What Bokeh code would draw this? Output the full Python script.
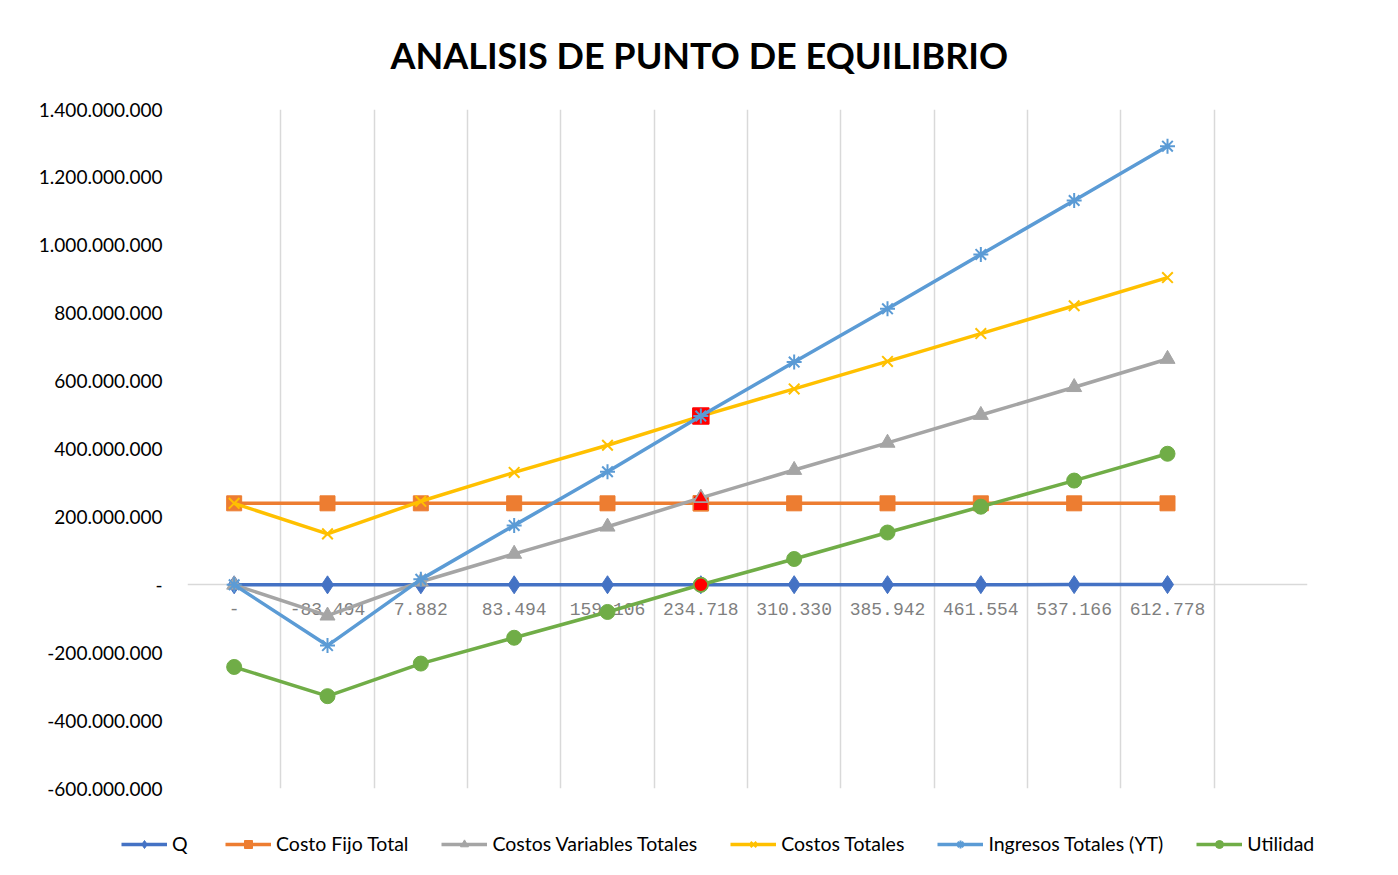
from bokeh.plotting import figure
from bokeh.models import FixedTicker, Legend, LegendItem, Range1d
from bokeh.core.properties import value
from bokeh.embed import file_html
from bokeh.resources import INLINE

# ---------------- data ----------------
categories = ["-", "-83.494", "7.882", "83.494", "159.106", "234.718",
              "310.330", "385.942", "461.554", "537.166", "612.778"]
q_values = [0, -83494, 7882, 83494, 159106, 234718, 310330, 385942, 461554, 537166, 612778]
costo_fijo = [240e6, 240e6, 240e6, 240e6, 240e6, 240e6, 240e6, 240e6, 240e6, 240e6, 240e6]
costos_variables = [0, -91e6, 9e6, 91e6, 171e6, 256e6, 338e6, 418e6, 500e6, 582e6, 665e6]
costos_totales = [240e6, 150e6, 246e6, 331e6, 411e6, 497e6, 577e6, 658e6, 740e6, 822e6, 905e6]
ingresos_totales = [0, -179e6, 16e6, 175e6, 333e6, 497e6, 656e6, 813e6, 973e6, 1132e6, 1292e6]
utilidad = [-242e6, -328e6, -232e6, -156e6, -80e6, 0, 76e6, 154e6, 230e6, 307e6, 386e6]
break_even_index = 5

y_ticks = [-600e6, -400e6, -200e6, 0, 200e6, 400e6, 600e6, 800e6, 1000e6, 1200e6, 1400e6]
y_tick_labels = ["-600.000.000", "-400.000.000", "-200.000.000", "-", "200.000.000",
                 "400.000.000", "600.000.000", "800.000.000", "1.000.000.000",
                 "1.200.000.000", "1.400.000.000"]

title_text = "ANALISIS DE PUNTO DE EQUILIBRIO"

# ---------------- main figure ----------------
n = len(categories)
xs = list(range(n))

p = figure(frame_width=1120, frame_height=679,
           x_range=Range1d(-0.5, n + 0.5), y_range=Range1d(y_ticks[0], y_ticks[-1]),
           output_backend="svg", toolbar_location=None, x_axis_location=None,
           min_border_left=187, min_border_right=86, min_border_top=109, min_border_bottom=14)

p.outline_line_color = None
p.background_fill_color = "white"
p.border_fill_color = "white"

p.title.text = title_text
p.title.align = "left"
p.title.vertical_align = "top"
p.title.offset = 203
p.title.standoff = 62
p.title.text_font = "Lato"
p.title.text_font_style = "bold"
p.title.text_font_size = "36px"
p.title.text_color = "#000000"

# grid: vertical lines at category boundaries, horizontal line at zero
p.xgrid.ticker = FixedTicker(ticks=[k - 0.5 for k in range(n + 2)])
p.xgrid.grid_line_color = "#d9d9d9"
p.xgrid.grid_line_width = 1.5
p.ygrid.ticker = FixedTicker(ticks=[0])
p.ygrid.grid_line_color = "#d9d9d9"
p.ygrid.grid_line_width = 1.5

# y axis
p.yaxis.ticker = FixedTicker(ticks=y_ticks)
p.yaxis.major_label_overrides = {t: l for t, l in zip(y_ticks, y_tick_labels)}
p.yaxis.axis_line_color = None
p.yaxis.major_tick_line_color = None
p.yaxis.minor_tick_line_color = None
p.yaxis.major_label_text_font = "Lato"
p.yaxis.major_label_text_font_size = "19px"
p.yaxis.major_label_text_color = "#000000"
p.yaxis.major_label_standoff = 19

# category labels next to the zero line
p.text(x=xs, y=[0] * n, text=categories, text_font=value("Liberation Mono"),
       text_font_size="18px", text_color="#7f7f7f", text_align="center",
       text_baseline="middle", y_offset=24)

series = [
    ("Q", q_values, "#4472C4", "diamond", 18),
    ("Costo Fijo Total", costo_fijo, "#ED7D31", "square", 15),
    ("Costos Variables Totales", costos_variables, "#A5A5A5", "triangle", 15),
    ("Costos Totales", costos_totales, "#FFC000", "x", 15),
    ("Ingresos Totales (YT)", ingresos_totales, "#5B9BD5", "asterisk", 15),
    ("Utilidad", utilidad, "#70AD47", "circle", 15),
]
highlight = {
    "Costo Fijo Total": ("square", 15),
    "Costos Variables Totales": ("triangle", 14),
    "Costos Totales": ("square", 16),
    "Utilidad": ("circle", 14),
}


def draw_series(fig, name, vals, color, marker, size, with_highlight):
    ln = fig.line(xs, vals, line_color=color, line_width=3.5)
    if marker in ("x", "asterisk"):
        sc = fig.scatter(xs, vals, marker=marker, size=size, line_color=color,
                         line_width=2, fill_color=None)
    else:
        sc = fig.scatter(xs, vals, marker=marker, size=size, fill_color=color,
                         line_color=color, line_width=1)
    if with_highlight and name in highlight:
        hm, hs = highlight[name]
        fig.scatter([xs[break_even_index]], [vals[break_even_index]], marker=hm, size=hs,
                    fill_color="#FF0000",
                    line_color=color if name != "Costos Totales" else "#FF0000",
                    line_width=1.5)
    return ln, sc


for name, vals, color, marker, size in series:
    draw_series(p, name, vals, color, marker, size, True)

# ---------------- legend strip (same series, legend only) ----------------
p2 = figure(width=1393, height=70, x_range=Range1d(-0.5, n + 0.5),
            y_range=Range1d(y_ticks[-1] * 2, y_ticks[-1] * 3),
            output_backend="svg", toolbar_location=None,
            x_axis_location=None, y_axis_location=None, min_border=0)
p2.grid.visible = False
p2.outline_line_color = None
p2.background_fill_color = "white"
p2.border_fill_color = "white"

items = []
for name, vals, color, marker, size in series:
    ln, sc = draw_series(p2, name, vals, color, marker, size, False)
    items.append(LegendItem(label=name, renderers=[ln, sc]))

legend = Legend(items=items, orientation="horizontal", location=(121, 17),
                label_text_font="Lato", label_text_font_size="19.5px",
                label_text_color="#000000", glyph_width=46, glyph_height=20,
                label_standoff=5, spacing=33, border_line_color=None,
                background_fill_alpha=0, padding=4, margin=0)
p2.add_layout(legend, "center")

open("out.html", "w").write(file_html([p, p2], INLINE))
